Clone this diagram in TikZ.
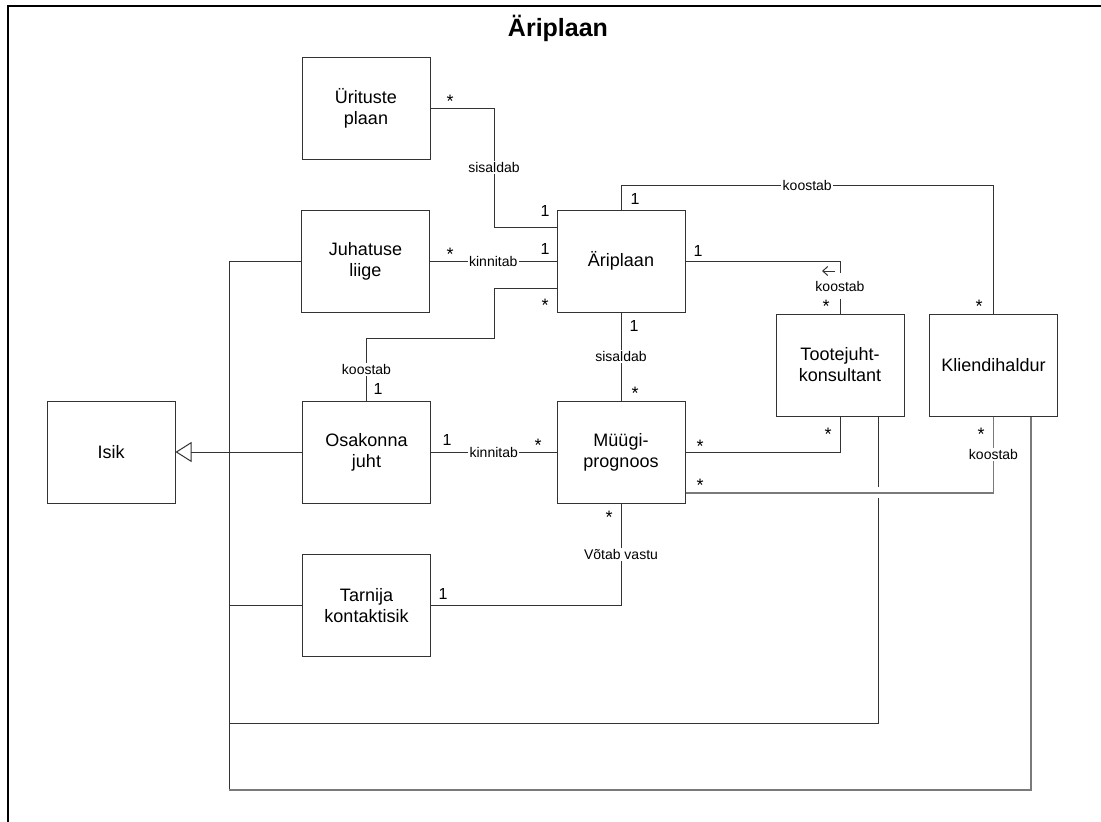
\documentclass[tikz,border=0pt]{standalone}
\usepackage{fontspec}
\setmainfont{Liberation Sans}
\usetikzlibrary{arrows.meta}
\definecolor{ln}{HTML}{333333}
\definecolor{lngray}{HTML}{7A7A7A}
\begin{document}
\begin{tikzpicture}[x=1pt,y=-1pt,
  cls/.style={draw=ln, line width=1pt, minimum width=128pt, minimum height=102pt,
    inner sep=2pt, align=center, font=\fontsize{18}{21}\selectfont},
  lnk/.style={draw=ln, line width=1pt},
  lnkgray/.style={draw=lngray, line width=1.4pt},
  rel/.style={fill=white, inner sep=1.5pt, font=\fontsize{14}{16}\selectfont},
  mone/.style={anchor=base, yshift=-5.7pt, inner sep=0pt, font=\fontsize{16}{18}\selectfont},
  mstar/.style={anchor=base, yshift=-10.4pt, inner sep=0pt, font=\fontsize{18}{20}\selectfont},
]
\useasboundingbox (0,0) rectangle (1101,822);
% frame and title
\draw[line width=1.3pt] (8,840) -- (8,6) -- (1120,6);
\node[anchor=base, inner sep=0pt, font=\bfseries\fontsize{25}{28}\selectfont] (title) at (558,36.5) {Äriplaan};

% classes
\node[cls] (U)  at (366,108.5)  {Ürituste\\plaan};
\node[cls] (J)  at (365.5,261)  {Juhatuse\\liige};
\node[cls] (A)  at (621,261)    {Äriplaan};
\node[cls] (T)  at (840,365)    {Tootejuht-\\konsultant};
\node[cls] (K)  at (993.5,365)  {Kliendihaldur};
\node[cls] (I)  at (111,452)    {Isik};
\node[cls] (O)  at (366.5,452)  {Osakonna\\juht};
\node[cls] (M)  at (621,452)    {Müügi-\\prognoos};
\node[cls] (Ta) at (366.5,605.5){Tarnija\\kontaktisik};

% associations
\draw[lnk] (U.east) -| node[rel,pos=.75] (l1) {sisaldab} (494,227) -- (A.west |- 0,227);
\draw[lnk] (J.east) -- node[rel] (l2) {kinnitab} (A.west);
\draw[lnk] (A.west |- 0,288) -| (494,338) -| node[rel,pos=.75] (l3) {koostab} (O.north);
\draw[lnk] (A.north) |- node[rel,pos=.75] (l4) {koostab} (K.north |- 0,185) -- (K.north);
\draw[lnk] (A.east) -| (T.north);
\node[rel, anchor=base, text height=16.5pt, text depth=6.5pt] (l5) at (T.north |- 0,291) {koostab};
\draw[ln, line width=1pt, -{Straight Barb[length=5pt,width=9pt]}]
  ([xshift=-5pt,yshift=20pt]l5.base) -- ++(-13,0);
\draw[lnk] (A.south) -- node[rel] (l6) {sisaldab} (M.north);
\draw[lnk] (O.east) -- node[rel] (l7) {kinnitab} (M.west);
\draw[lnk] (M.east) -| (T.south);
\draw[lnkgray] ([yshift=-41pt]M.east) -| node[rel,pos=.75] (l9) {koostab} (K.south);
\draw[lnk] (M.south) |- node[rel,pos=.25] (l10) {Võtab vastu} (Ta.east);

% generalisation towards Isik
\coordinate (bus) at (229,0);
\coordinate (tb) at ([xshift=38pt]T.south);
\coordinate (kb) at ([xshift=37.5pt]K.south);
\draw[lnk, -{Triangle[open, length=16pt, width=20pt]}] (O.west) -- (I.east);
\draw[lnk] (J.west) -- (J.west -| bus) -- (bus |- 0,790);
\draw[lnk] (Ta.west) -- (Ta.west -| bus);
\draw[lnk] (bus |- 0,723) -| (tb |- 0,498);
\draw[lnk] (tb |- 0,487) -- (tb);
\draw[lnkgray] (bus |- 0,790) -| (kb);

% multiplicities
\node[mstar] (u1) at (450,97)  {*};
\node[mone]  (a1) at (545,211) {1};
\node[mstar] (j1) at (450,250) {*};
\node[mone]  (a2) at (545,249) {1};
\node[mstar] (a3) at (545,301) {*};
\node[mone]  (a4) at (635,199) {1};
\node[mone]  (a5) at (698,251) {1};
\node[mstar] (t1) at (826,302) {*};
\node[mstar] (k1) at (979,302) {*};
\node[mone]  (a6) at (634,326) {1};
\node[mstar] (m1) at (635,389) {*};
\node[mone]  (o1) at (378,389) {1};
\node[mone]  (o2) at (447,440) {1};
\node[mstar] (m2) at (538,441) {*};
\node[mstar] (m3) at (700,442) {*};
\node[mstar] (t2) at (828,430) {*};
\node[mstar] (m4) at (700,481) {*};
\node[mstar] (k2) at (981,430) {*};
\node[mstar] (m5) at (609,513) {*};
\node[mone]  (ta1) at (443,594) {1};
\end{tikzpicture}
\end{document}
